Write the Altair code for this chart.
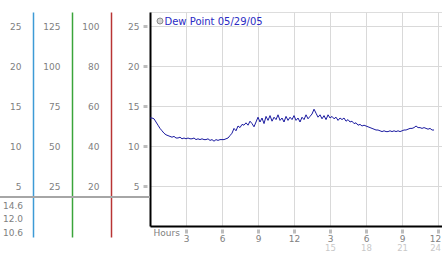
import altair as alt
import pandas as pd

# ---------------- data ----------------
# dew point readings, every 10 minutes from midnight (hour 0)
dew_point = [
    13.5, 13.5, 13.4, 13.0, 12.6, 12.2,   # hour 0
    11.9, 11.6, 11.4, 11.3, 11.2, 11.1,   # 1
    11.2, 11.0, 11.0, 11.1, 10.9, 11.0,   # 2
    10.9, 11.0, 10.9, 10.9, 11.0, 10.8,   # 3
    10.9, 10.8, 10.9, 10.8, 10.8, 10.9,   # 4
    10.7, 10.8, 10.6, 10.8, 10.7, 10.8,   # 5
    10.8, 10.8, 10.9, 11.0, 11.3, 11.6,   # 6
    12.2, 11.9, 12.5, 12.3, 12.7, 12.6,   # 7
    12.9, 12.6, 13.1, 12.8, 12.4, 13.0,   # 8
    13.6, 13.0, 13.5, 12.8, 13.7, 13.2,   # 9
    13.8, 13.1, 13.6, 13.3, 13.9, 13.2,   # 10
    13.5, 13.0, 13.7, 13.2, 13.6, 13.3,   # 11
    13.8, 13.2, 13.5, 13.0, 13.6, 13.3,   # 12
    13.9, 13.4, 13.7, 14.0, 14.6, 14.1,   # 13
    13.6, 13.9, 13.4, 13.8, 13.3, 13.9,   # 14
    13.5, 13.7, 13.4, 13.6, 13.2, 13.5,   # 15
    13.3, 13.5, 13.1, 13.3, 13.0, 13.1,   # 16
    12.8, 12.9, 12.6, 12.7, 12.5, 12.6,   # 17
    12.5, 12.4, 12.3, 12.2, 12.1, 12.0,   # 18
    12.0, 11.9, 11.8, 11.9, 11.8, 11.8,   # 19
    11.9, 11.8, 11.9, 11.8, 11.9, 11.8,   # 20
    11.9, 12.0, 12.0, 12.1, 12.2, 12.2,   # 21
    12.3, 12.5, 12.3, 12.3, 12.2, 12.3,   # 22
    12.2, 12.1, 12.2, 12.0, 12.0,         # 23
]
hours = [i / 6 for i in range(len(dew_point))]

series_name = "Dew Point 05/29/05"

x_ticks = [3, 6, 9, 12, 15, 18, 21, 24]
x_labels = ["3", "6", "9", "12", "3", "6", "9", "12"]
x_labels_24 = ["", "", "", "", "15", "18", "21", "24"]

col1_ticks = [5, 10, 15, 20, 25]
col2_ticks = [25, 50, 75, 100, 125]
col3_ticks = [20, 40, 60, 80, 100]
col4_ticks = [5, 10, 15, 20, 25]

stat_labels = ["14.6", "12.0", "10.6"]

# ---------------- styles ----------------
FONT = "DejaVu Sans"
GRAY = "#808080"
LIGHT = "#c8c8c8"
GRID = "#d9d9d9"
LINE = "#1a1aa0"
BLUE, GREEN, RED = "#3d9bd6", "#3aa43a", "#b83434"

W, H = 292, 214
y_top = 26.75
y_scale = alt.Scale(domain=[0, y_top], nice=False, zero=False)
x_scale = alt.Scale(domain=[0, 24.33], nice=False, zero=False)

df = pd.DataFrame({"hour": hours, "dew": dew_point})

last_tick = "datum.value == %d" % x_ticks[-1]
edge_offset = {"condition": {"test": last_tick, "value": -3}, "value": 0}


def lab_expr(labels):
    return "%s[indexof(%s, datum.value)]" % (labels, x_ticks)


line = alt.Chart(df).mark_line(color=LINE, strokeWidth=1).encode(
    x=alt.X("hour:Q", scale=x_scale, axis=alt.Axis(
        orient="bottom",
        values=x_ticks, labelExpr=lab_expr(x_labels),
        title="Hours", titleX=3, titleY=9.5, titleAlign="left", titleAnchor="start",
        titleBaseline="alphabetic", titleFont=FONT, titleFontSize=9,
        titleFontWeight="normal", titleColor=GRAY,
        grid=True, gridColor=GRID, gridWidth=1,
        domainColor="black", domainWidth=2,
        tickColor="#bdbdbd", tickSize=7, tickWidth=3, tickDash=[0, 3, 4],
        labelPadding=1.5, labelColor=GRAY, labelFont=FONT, labelFontSize=9,
        labelOffset=edge_offset,
        labelAngle=0, labelFlush=False, labelOverlap=False)),
    y=alt.Y("dew:Q", scale=y_scale, axis=alt.Axis(
        orient="left", values=col4_ticks, title=None,
        grid=True, gridColor=GRID, gridWidth=1,
        domainColor="black", domainWidth=2,
        tickColor="#bdbdbd", tickSize=7, tickWidth=3, tickDash=[0, 3, 4],
        labelPadding=4, labelColor=GRAY, labelFont=FONT, labelFontSize=9)),
)

x_second = alt.Chart(df).mark_point(opacity=0).encode(
    x=alt.X("hour:Q", scale=x_scale, axis=alt.Axis(
        orient="bottom",
        values=x_ticks, labelExpr=lab_expr(x_labels_24), title=None,
        grid=False, domain=False, ticks=False, tickSize=0,
        labelPadding=17.5, labelColor=LIGHT, labelFont=FONT, labelFontSize=8.5,
        labelOffset=edge_offset,
        labelAngle=0, labelFlush=False, labelOverlap=False)),
    y=alt.Y("dew:Q", scale=y_scale, axis=None),
)

EXT = 225  # pixel length of the coloured column lines


def column(ticks, factor, color, offset):
    lo = (y_top - EXT / 8) * factor
    return alt.Chart(pd.DataFrame({"v": ticks})).mark_point(opacity=0).encode(
        y=alt.Y("v:Q",
                scale=alt.Scale(domain=[lo, y_top * factor], range=[EXT, 0],
                                nice=False, zero=False),
                axis=alt.Axis(orient="left", offset=offset, values=ticks, title=None,
                              grid=False, ticks=False, domainColor=color,
                              domainWidth=1.5, labelPadding=12, labelColor=GRAY,
                              labelFont=FONT, labelFontSize=9))
    )


col1 = column(col1_ticks, 1, BLUE, 117)
col2 = column(col2_ticks, 5, GREEN, 78)
col3 = column(col3_ticks, 4, RED, 39)

one = pd.DataFrame({"s": [series_name]})

sep = alt.Chart(one).mark_rule(color="#a6a6a6", strokeWidth=2).encode(
    x=alt.value(-150), x2=alt.value(0), y=alt.value(185))

stats = alt.Chart(one).mark_text(
    align="left", baseline="top", font=FONT, fontSize=9, color=GRAY, lineHeight=13.5
).encode(x=alt.value(-147), y=alt.value(189.5), text=alt.value(stat_labels))

legend_dot = alt.Chart(one).mark_point(
    shape="circle", size=36, filled=True, fill="#d4d4d4", stroke="#8c8c8c",
    strokeWidth=1, opacity=1
).encode(x=alt.value(10), y=alt.value(9))

legend_text = alt.Chart(one).mark_text(
    align="left", baseline="alphabetic", font=FONT, fontSize=10, color="#2b2bc4"
).encode(x=alt.value(14.5), y=alt.value(12.5), text="s:N")

chart = alt.layer(
    line, x_second, col1, col2, col3, sep, stats, legend_dot, legend_text
).resolve_scale(y="independent").resolve_axis(x="independent").properties(
    width=W, height=H,
    autosize=alt.AutoSizeParams(type="none"),
    padding={"left": 150, "top": 12, "right": 0, "bottom": 27},
).configure_view(stroke=None).configure(background="white")

chart.save("out.html", embed_options={"renderer": "svg", "actions": False})
